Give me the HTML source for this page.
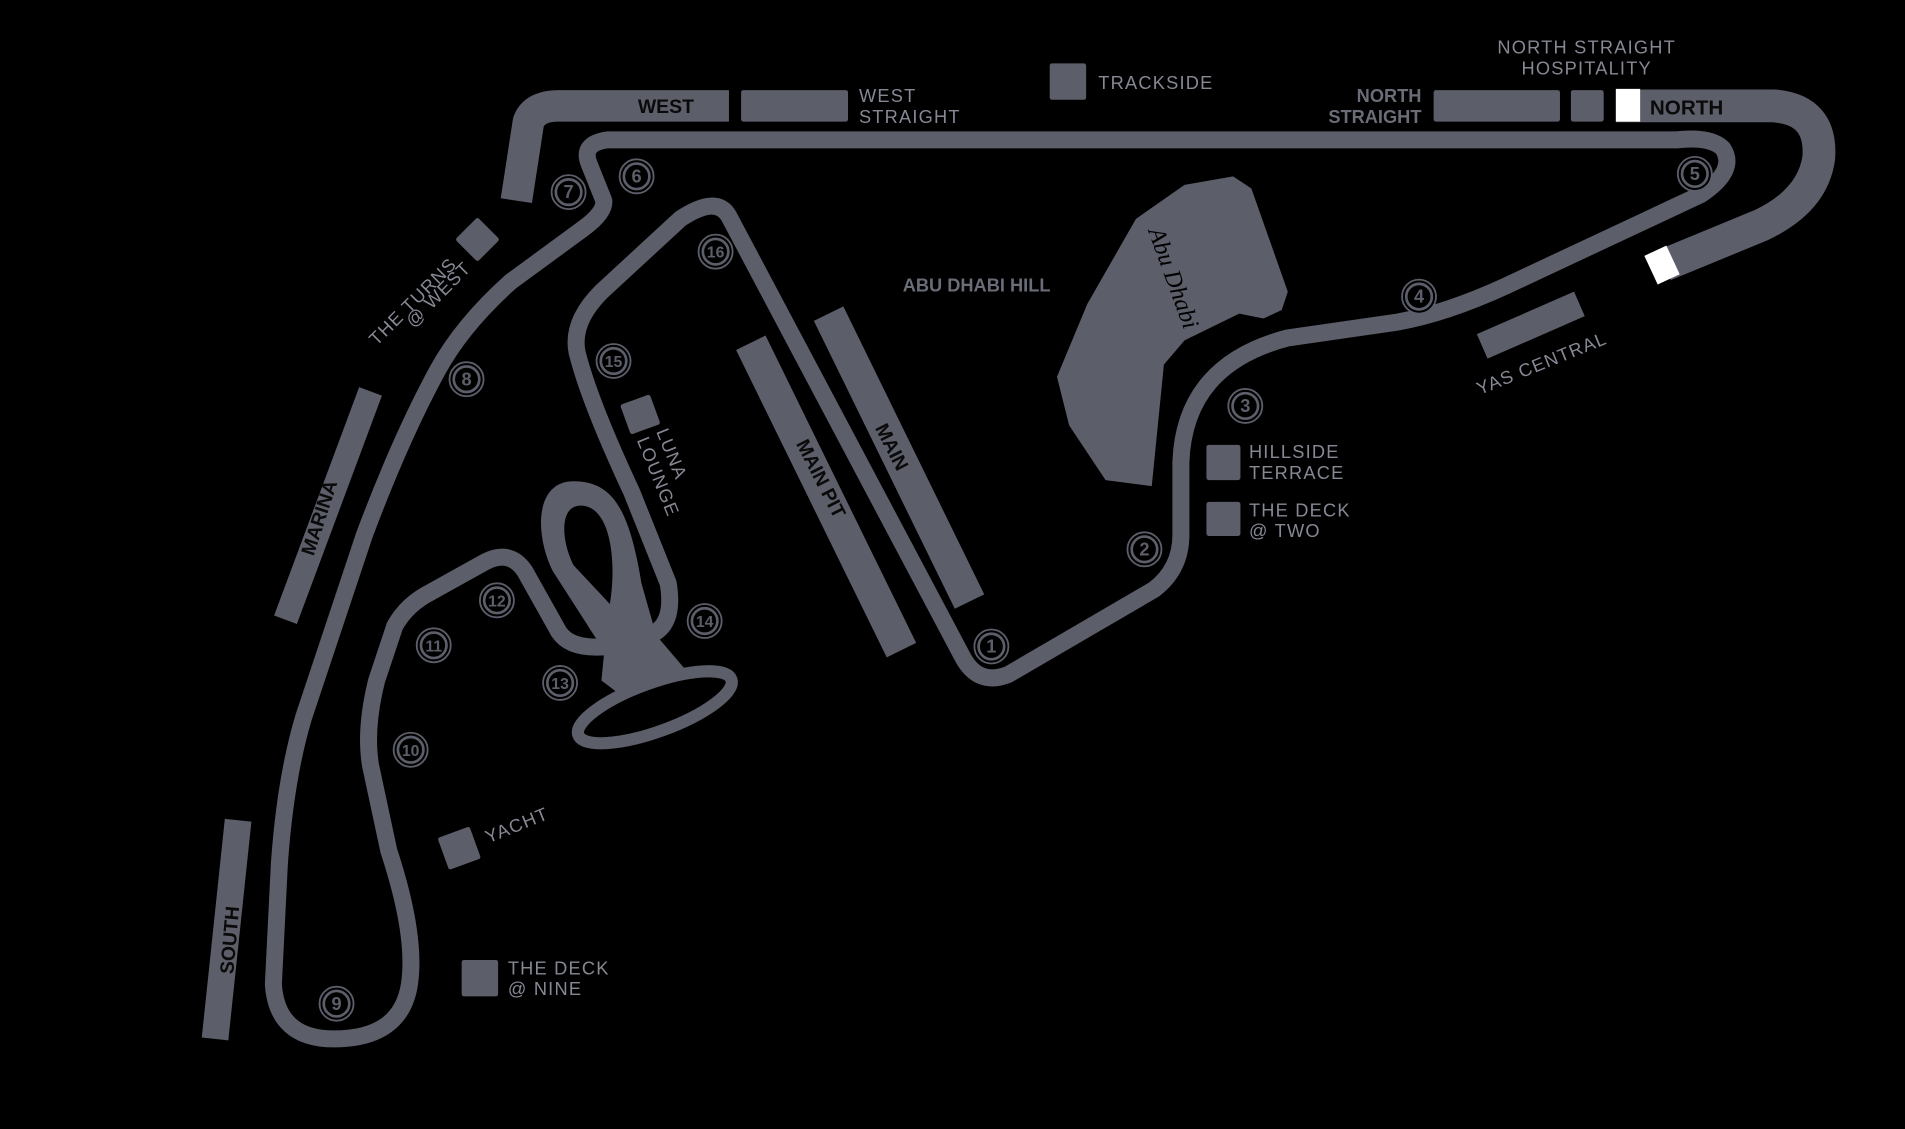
<!DOCTYPE html>
<html><head><meta charset="utf-8"><style>
html,body{margin:0;padding:0;background:#000;}
svg{display:block;}
text{font-family:"Liberation Sans","DejaVu Sans",sans-serif;}
.lbl{fill:#868894;font-size:15px;letter-spacing:1px;}
.dk{fill:#0a0a0a;font-size:16px;font-weight:bold;}
.n{fill:#5c5e6a;font-size:15px;font-weight:bold;text-anchor:middle;}
</style></head><body>
<svg width="1905" height="1129" viewBox="0 0 1568 929" xmlns="http://www.w3.org/2000/svg">
<rect width="1568" height="929" fill="#000"/>
<g fill="none" stroke="#5c5e6a" stroke-linejoin="round" stroke-linecap="round">
<path d="M425 165 L435 100 Q440 87 460 87 L600 87" stroke-width="26" stroke-linecap="butt"/>
<path d="M1330 87 L1460 87 Q1500 90 1497 130 Q1492 165 1450 185 L1370 218" stroke-width="27" stroke-linecap="butt"/>
<path d="M600 178 L792 540 Q805 565 830 555 L950 485 Q972 468 972 440 L972 380 Q975 300 1060 278 L1150 265 Q1190 258 1240 235 L1400 160 Q1430 140 1418 122 Q1408 112 1380 115 L500 115 Q478 118 485 135 L497 165 Q498 175 480 188 L420 232 Q380 268 360 305 Q330 360 300 440 L250 590 Q235 640 230 710 L225 810 Q228 855 275 855 Q330 855 337 810 Q343 770 320 700 L305 630 Q300 600 310 560 L325 515 Q335 497 355 487 L400 462 Q420 452 432 470 L460 520 Q470 535 500 532 L540 520 Q555 510 550 480 L520 405 Q485 330 475 290 Q470 265 495 240 L560 180 Q590 160 600 178 Z" stroke-width="14"/>
<ellipse cx="539" cy="582" rx="67" ry="20" transform="rotate(-20 539 582)" stroke-width="10"/>
</g>
<path fill="#5c5e6a" fill-rule="evenodd" d="M472 396 C440 396 440 440 455 470 L500 540 L545 540 L528 480 C518 420 505 396 472 396 Z M478 416 C460 416 462 445 472 465 L502 497 C508 460 502 416 478 416 Z"/>
<path fill="#5c5e6a" d="M498 530 L542 525 L565 552 L515 575 L495 560 Z"/>
<g fill="#5c5e6a">
<rect x="610" y="74" width="88" height="26" rx="2"/>
<rect x="864" y="52" width="30" height="30" rx="2"/>
<rect x="1180" y="74" width="104" height="26" rx="2"/>
<rect x="1293" y="74" width="27" height="26" rx="2"/>
<rect x="993" y="366" width="28" height="29" rx="2"/>
<rect x="993" y="413" width="28" height="28" rx="2"/>
<rect x="380" y="790" width="30" height="30" rx="2"/>
<rect x="-13" y="-13" width="26" height="26" rx="2" transform="translate(393,197) rotate(45)"/>
<rect x="-13" y="-13" width="26" height="26" rx="2" transform="translate(527,341) rotate(-20)"/>
<rect x="-14" y="-14" width="28" height="28" rx="2" transform="translate(378,698) rotate(-20)"/>
<path d="M305 322 L235 510" stroke="#5c5e6a" stroke-width="20"/>
<path d="M196 675 L177 855" stroke="#5c5e6a" stroke-width="22"/>
<path d="M618 282 L742 535" stroke="#5c5e6a" stroke-width="27"/>
<path d="M682 258 L798 495" stroke="#5c5e6a" stroke-width="27"/>
<path d="M1220 285 L1300 250" stroke="#5c5e6a" stroke-width="22"/>
<path d="M935 180 L975 152 L1015 145 L1030 155 L1060 240 L1055 255 L1040 262 L1020 258 L975 280 L958 300 L948 400 L910 395 L880 350 L870 310 L895 250 Z"/>
</g>
<rect x="1330" y="73" width="20" height="27" fill="#fff"/>
<rect x="-10" y="-13" width="20" height="26" fill="#fff" transform="translate(1368,218) rotate(-25)"/>
<text class="dk" x="525" y="93">WEST</text>
<text class="dk" x="1358" y="94" style="font-size:17px">NORTH</text>
<text class="lbl" x="707" y="84">WEST</text><text class="lbl" x="707" y="101">STRAIGHT</text>
<text class="lbl" x="904" y="73">TRACKSIDE</text>
<text style="fill:#6a6c78;font-size:15px;font-weight:bold" x="1170" y="84" text-anchor="end">NORTH</text>
<text style="fill:#6a6c78;font-size:15px;font-weight:bold" x="1170" y="101" text-anchor="end">STRAIGHT</text>
<text class="lbl" x="1306" y="44" text-anchor="middle">NORTH STRAIGHT</text>
<text class="lbl" x="1306" y="61" text-anchor="middle">HOSPITALITY</text>
<text style="fill:#6a6c78;font-size:15px;font-weight:bold" x="743" y="240">ABU DHABI HILL</text>
<text class="lbl" x="1028" y="377">HILLSIDE</text><text class="lbl" x="1028" y="394">TERRACE</text>
<text class="lbl" x="1028" y="425">THE DECK</text><text class="lbl" x="1028" y="442">@ TWO</text>
<text class="lbl" x="418" y="802">THE DECK</text><text class="lbl" x="418" y="819">@ NINE</text>
<text class="lbl" transform="translate(1218,325) rotate(-22)">YAS CENTRAL</text>
<text class="lbl" transform="translate(402,694) rotate(-22)">YACHT</text>
<text class="lbl" transform="translate(310,285) rotate(-45)">THE TURNS</text>
<text class="lbl" transform="translate(340,270) rotate(-45)">@ WEST</text>
<text class="lbl" transform="translate(540,355) rotate(68)">LUNA</text>
<text class="lbl" transform="translate(524,362) rotate(68)">LOUNGE</text>
<text class="dk" transform="translate(258,458) rotate(-72)">MARINA</text>
<text class="dk" transform="translate(192,802) rotate(-85)">SOUTH</text>
<text class="dk" transform="translate(655,365) rotate(63)">MAIN PIT</text>
<text class="dk" transform="translate(720,352) rotate(63)">MAIN</text>
<text style="fill:#000;font-size:20px;font-style:italic;font-family:'Liberation Serif',serif" transform="translate(945,190) rotate(70)">Abu Dhabi</text>
<g fill="#000" stroke="#5c5e6a" stroke-width="1.5">
<circle cx="816" cy="532" r="14"/><circle cx="942" cy="452" r="14"/><circle cx="1025" cy="334" r="14"/>
<circle cx="1168" cy="244" r="14"/><circle cx="1395" cy="143" r="14"/><circle cx="524" cy="145" r="14"/>
<circle cx="468" cy="158" r="14"/><circle cx="384" cy="312" r="14"/><circle cx="277" cy="826" r="14"/>
<circle cx="338" cy="617" r="14"/><circle cx="357" cy="531" r="14"/><circle cx="409" cy="494" r="14"/>
<circle cx="461" cy="562" r="14"/><circle cx="580" cy="511" r="14"/><circle cx="505" cy="297" r="14"/>
<circle cx="589" cy="207" r="14"/>
</g>
<g fill="none" stroke="#5c5e6a" stroke-width="2.2">
<circle cx="816" cy="532" r="10.5"/><circle cx="942" cy="452" r="10.5"/><circle cx="1025" cy="334" r="10.5"/>
<circle cx="1168" cy="244" r="10.5"/><circle cx="1395" cy="143" r="10.5"/><circle cx="524" cy="145" r="10.5"/>
<circle cx="468" cy="158" r="10.5"/><circle cx="384" cy="312" r="10.5"/><circle cx="277" cy="826" r="10.5"/>
<circle cx="338" cy="617" r="10.5"/><circle cx="357" cy="531" r="10.5"/><circle cx="409" cy="494" r="10.5"/>
<circle cx="461" cy="562" r="10.5"/><circle cx="580" cy="511" r="10.5"/><circle cx="505" cy="297" r="10.5"/>
<circle cx="589" cy="207" r="10.5"/>
</g>
<g>
<text class="n" x="816" y="537">1</text><text class="n" x="942" y="457">2</text><text class="n" x="1025" y="339">3</text>
<text class="n" x="1168" y="249">4</text><text class="n" x="1395" y="148">5</text><text class="n" x="524" y="150">6</text>
<text class="n" x="468" y="163">7</text><text class="n" x="384" y="317">8</text><text class="n" x="277" y="831">9</text>
<text class="n" x="338" y="622" style="font-size:13px">10</text><text class="n" x="357" y="536" style="font-size:13px">11</text><text class="n" x="409" y="499" style="font-size:13px">12</text>
<text class="n" x="461" y="567" style="font-size:13px">13</text><text class="n" x="580" y="516" style="font-size:13px">14</text><text class="n" x="505" y="302" style="font-size:13px">15</text>
<text class="n" x="589" y="212" style="font-size:13px">16</text>
</g>
</svg>
</body></html>
